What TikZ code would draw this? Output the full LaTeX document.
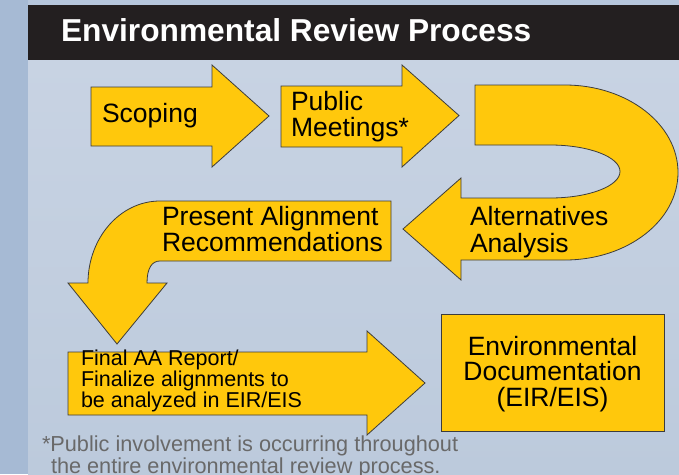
\documentclass[tikz,border=0pt]{standalone}
\usepackage{fontspec}
\setmainfont{Liberation Sans}
\definecolor{arrowyellow}{RGB}{255,200,12}
\definecolor{edgegray}{RGB}{60,60,60}
\definecolor{stripblue}{RGB}{166,186,212}
\definecolor{topblue}{RGB}{182,198,220}
\definecolor{panellight}{RGB}{200,211,227}
\definecolor{paneldark}{RGB}{188,202,220}
\definecolor{titleblack}{RGB}{35,31,32}
\definecolor{notegray}{RGB}{105,105,105}
\begin{document}
\begin{tikzpicture}[x=1pt,y=-1pt,
  blockarrow/.style={fill=arrowyellow, draw=edgegray, line width=0.8pt, line join=miter},
  % multi-line labels are placed by the baseline of their last line
  lbl/.style={inner sep=0pt, outer sep=0pt, text=black, anchor=base west, align=left},
  lblc/.style={inner sep=0pt, outer sep=0pt, text=black, anchor=base, align=center},
  big/.style={font=\fontsize{26.5}{26.3}\selectfont},
  mid/.style={font=\fontsize{21.5}{18.3}\selectfont},
  note/.style={inner sep=0pt, outer sep=0pt, anchor=base west, text=notegray,
               font=\fontsize{21.7}{18.5}\selectfont},
  titletext/.style={inner sep=0pt, outer sep=0pt, anchor=base west, text=white,
               font=\fontsize{31.7}{31.7}\selectfont\bfseries}
]
\useasboundingbox (0,0) rectangle (679,474);

% background: side strip, top strip, panel
\fill[stripblue] (0,0) rectangle (28,474);
\fill[topblue] (28,0) rectangle (679,5);
\shade[top color=panellight, bottom color=paneldark] (28,60) rectangle (679,474);
\fill[titleblack] (28,5) rectangle (679,60);
\node[titletext] (title) at (61,41.5) {Environmental Review Process};

% Scoping arrow
\draw[blockarrow] (91,87) -- (212,87) -- (212,65) -- (269,116) -- (212,167)
  -- (212,146) -- (91,146) -- cycle;
\node[lbl,big] (scoping) at (102,122.5) {Scoping};

% Public meetings arrow
\draw[blockarrow] (281,86) -- (402,86) -- (402,65) -- (459,115.5) -- (402,167)
  -- (402,147) -- (281,147) -- cycle;
\node[lbl,big,font=\fontsize{26.5}{25.3}\selectfont] (pub) at (291,136) {Public\\Meetings*};

% U-turn arrow for the alternatives analysis
\draw[blockarrow] (475,85) -- (565,85)
  .. controls (627,85) and (678,124) .. (678,172.5)
  .. controls (678,221) and (627,260) .. (565,260)
  -- (461,260) -- (461,280) -- (403,229) -- (461,178) -- (461,198)
  -- (550,198)
  .. controls (589,198) and (620,186) .. (620,171.5)
  .. controls (620,157) and (589,145) .. (550,145)
  -- (475,145) -- cycle;
\node[lbl,big,font=\fontsize{26.5}{27}\selectfont] (alt) at (470,252.7) {Alternatives\\Analysis};

% Bent arrow for the alignment recommendations
\draw[blockarrow] (391,201) -- (391,261) -- (160,261)
  .. controls (152,261) and (147,268) .. (147,283)
  -- (167,283) -- (117,344) -- (68,283) -- (88,283)
  .. controls (88,238) and (120,201) .. (160,201)
  -- cycle;
\node[lbl,big] (pres) at (162,251.5) {Present Alignment\\Recommendations};

% Final AA report arrow
\draw[blockarrow] (68,352) -- (367,352) -- (367,331) -- (425,383) -- (367,435)
  -- (367,415) -- (68,415) -- cycle;
\node[lbl,mid] (fin) at (81,407.3) {Final AA Report/\\Finalize alignments to\\be analyzed in EIR/EIS};

% Environmental documentation box
\draw[blockarrow] (441,314) rectangle (664,431);
\node[lblc,big,font=\fontsize{26.5}{25.9}\selectfont] (env) at (552.5,406.8)
  {Environmental\\Documentation\\(EIR/EIS)};

% footnote
\node[note,align=left] (note) at (42,473)
  {*Public involvement is occurring throughout\\\hspace*{9pt}the entire environmental review process.};
\end{tikzpicture}
\end{document}
